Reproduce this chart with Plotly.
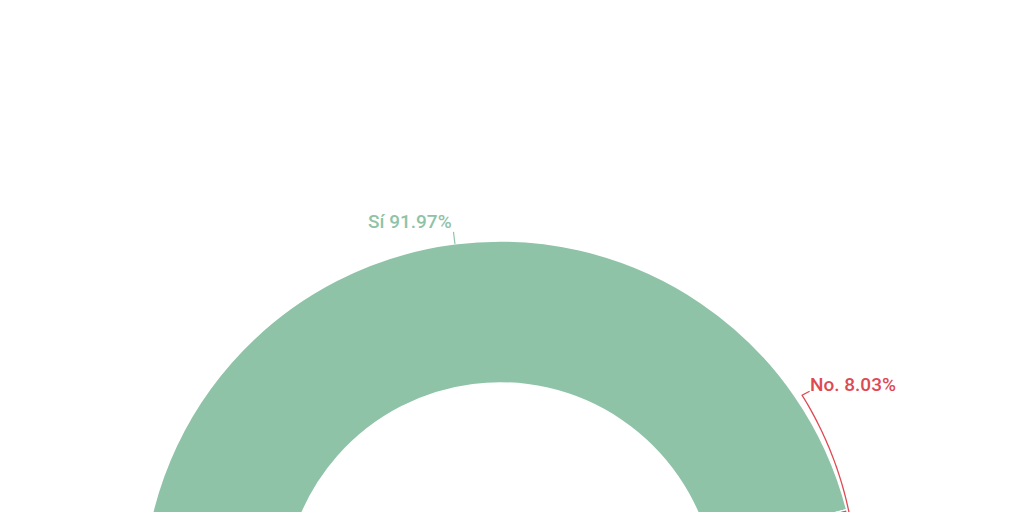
import math
import plotly.graph_objects as go

# --- data ---
labels = ["Sí", "No."]
shares = [91.97, 8.03]
colors = ["#8fc3a8", "#de4a52"]

# --- geometry (px) ---
W, H = 1024, 1198
cx, cy, R, r_in = 500, 599, 358, 216


def px(x):
    return x / W


def py(y):
    return 1 - y / H


def polar(angle_deg, rad):
    a = math.radians(angle_deg)
    return cx + rad * math.cos(a), cy - rad * math.sin(a)


# half donut: the hidden slice fills the lower half
values = shares + [sum(shares)]
fig = go.Figure(go.Pie(
    values=values,
    labels=labels + [""],
    sort=False,
    direction="clockwise",
    rotation=270,
    hole=r_in / R,
    textinfo="none",
    hoverinfo="skip",
    showlegend=False,
    marker=dict(colors=colors + ["rgba(0,0,0,0)"],
                line=dict(color="white", width=[1.5, 1.5, 0])),
    domain=dict(x=[(cx - R) / W, (cx + R) / W], y=[0, 1]),
))

# slice mid angles (degrees, counter-clockwise from 3 o'clock)
total = sum(shares)
mids = []
start = 180.0
for s in shares:
    span = 180.0 * s / total
    mids.append(start - span / 2)
    start -= span

shapes, annotations = [], []
font = dict(family="Roboto, sans-serif", size=19, weight=500)

# Sí: short radial leader, text to the left
x0, y0 = polar(mids[0], R)
x1, y1 = polar(mids[0], R + 12)
shapes.append(dict(type="line", xref="paper", yref="paper",
                   x0=px(x0), y0=py(y0), x1=px(x1), y1=py(y1),
                   line=dict(color=colors[0], width=1.2)))
annotations.append(dict(text=f"{labels[0]} {shares[0]:.2f}%", xref="paper", yref="paper",
                        x=px(x1 + 0.5), y=py(y1 - 10), xanchor="right", yanchor="middle",
                        showarrow=False, font=dict(font, color=colors[0])))

# No.: label pushed up, leader hugs the outer edge
a_end, r_end = 34.0, 364.4
pts = []
n = 40
for i in range(n + 1):
    t = i / n
    pts.append(polar(mids[1] + (a_end - mids[1]) * t, R + (r_end - R) * t))
ex, ey = pts[-1][0] + 7.5, pts[-1][1] - 4
path = "M " + " L ".join(f"{px(x):.5f},{py(y):.5f}" for x, y in pts) + f" L {px(ex):.5f},{py(ey):.5f}"
shapes.append(dict(type="path", xref="paper", yref="paper", path=path,
                   line=dict(color=colors[1], width=1.3)))
annotations.append(dict(text=f"{labels[1]} {shares[1]:.2f}%", xref="paper", yref="paper",
                        x=px(ex - 1.5), y=py(ey - 7), xanchor="left", yanchor="middle",
                        showarrow=False, font=dict(font, color=colors[1])))

fig.update_layout(
    width=W, height=H,
    margin=dict(l=0, r=0, t=0, b=0),
    paper_bgcolor="white",
    plot_bgcolor="white",
    shapes=shapes,
    annotations=annotations,
)

fig.write_html(
    "out.html",
    config=dict(displayModeBar=False),
    post_script="document.body.style.margin='0';document.body.style.overflow='hidden';"
                "document.documentElement.style.overflow='hidden';",
)
